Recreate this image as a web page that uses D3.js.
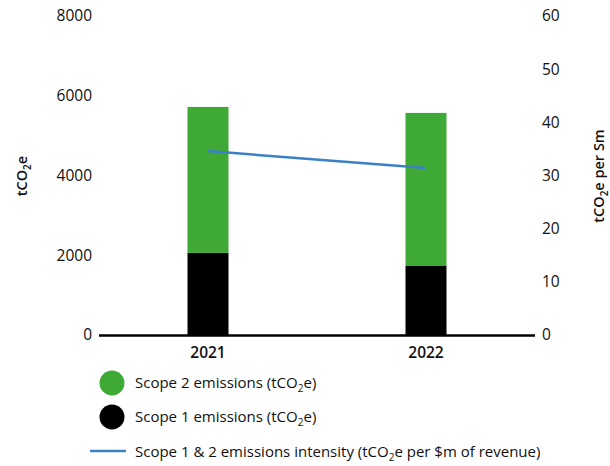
<!DOCTYPE html>
<meta charset="utf-8">
<script src="https://cdn.jsdelivr.net/npm/d3@7"></script>
<html>
<head>
<style>
body { margin: 0; background: #fff; }
text { font-family: "Open Sans", "Lato", sans-serif; fill: #111; }
</style>
</head>
<body>
<div id="chart"></div>
<script>

// data
var years = ["2021", "2022"];
var scope1 = [2060, 1730];
var scope2 = [3660, 3840];
var intensity = [34.6, 31.4];
var leftTicks = [0, 2000, 4000, 6000, 8000];
var rightTicks = [0, 10, 20, 30, 40, 50, 60];

var W = 610, H = 466;
var green = "#3ea935", blue = "#3b80c4";
var font = "'Open Sans', sans-serif";

var svg = d3.select("#chart").append("svg")
    .attr("width", W)
    .attr("height", H);

var x = d3.scaleBand()
  .domain(years)
  .range([99, 535])
  .padding(0);

var yL = d3.scaleLinear().domain([0, 8000]).range([335, 16]);
var yR = d3.scaleLinear().domain([0, 60]).range([335, 16]);

var barW = 41;

// left axis labels
svg.append("g")
  .attr("transform", "translate(99,0)")
  .call(d3.axisLeft(yL).tickValues(leftTicks).tickFormat(d3.format("d")).tickSize(0).tickPadding(7))
  .call(function(g) { g.select(".domain").remove(); })
  .selectAll("text").style("font-size", "15.5px").style("font-family", font).style("font-weight", "500").attr("fill", "#111");

// right axis labels
svg.append("g")
  .attr("transform", "translate(535,0)")
  .call(d3.axisRight(yR).tickValues(rightTicks).tickSize(0).tickPadding(7))
  .call(function(g) { g.select(".domain").remove(); })
  .selectAll("text").style("font-size", "15.5px").style("font-family", font).style("font-weight", "500").attr("fill", "#111");

// stacked bars
var bars = svg.append("g");
years.forEach(function(yr, i) {
  var cx = x(yr) + x.bandwidth() / 2;
  bars.append("rect")
    .attr("x", cx - barW / 2)
    .attr("y", yL(scope1[i]))
    .attr("width", barW)
    .attr("height", yL(0) - yL(scope1[i]))
    .attr("fill", "#000");
  bars.append("rect")
    .attr("x", cx - barW / 2)
    .attr("y", yL(scope1[i] + scope2[i]))
    .attr("width", barW)
    .attr("height", yL(scope1[i]) - yL(scope1[i] + scope2[i]))
    .attr("fill", green);
});

// x axis line + labels
svg.append("line")
  .attr("x1", 99).attr("x2", 535)
  .attr("y1", yL(0) + 0.5).attr("y2", yL(0) + 0.5)
  .attr("stroke", "#000").attr("stroke-width", 2.5);

svg.append("g")
  .attr("transform", "translate(0," + yL(0) + ")")
  .call(d3.axisBottom(x).tickSize(0).tickPadding(12))
  .call(function(g) { g.select(".domain").remove(); })
  .selectAll("text").style("font-size", "15.5px").style("font-family", font).style("font-weight", "600").attr("fill", "#111");

// intensity line
svg.append("path")
  .datum(intensity)
  .attr("fill", "none")
  .attr("stroke", blue)
  .attr("stroke-width", 2.5)
  .attr("d", d3.line()
    .x(function(d, i) { return x(years[i]) + x.bandwidth() / 2; })
    .y(function(d) { return yR(d); }));

// helper for text with subscript 2
function co2Text(sel, before, after) {
  sel.append("tspan").text(before + "tCO");
  sel.append("tspan").text("2").attr("dy", 4).style("font-size", "10px");
  sel.append("tspan").text("e" + after).attr("dy", -4);
}

// axis titles
var lt = svg.append("text")
  .attr("transform", "translate(27,176) rotate(-90)")
  .attr("text-anchor", "middle")
  .style("font-size", "14.5px").style("font-weight", "600");
co2Text(lt, "", "");

var rt = svg.append("text")
  .attr("transform", "translate(604,176) rotate(-90)")
  .attr("text-anchor", "middle")
  .style("font-size", "14.5px").style("font-weight", "600");
co2Text(rt, "", " per Sm");

// legend
var leg = svg.append("g").style("font-size", "15px").style("font-weight", "500");
leg.append("circle").attr("cx", 112).attr("cy", 383).attr("r", 12.5).attr("fill", green);
co2Text(leg.append("text").attr("x", 135).attr("y", 388), "Scope 2 emissions (", ")");
leg.append("circle").attr("cx", 112).attr("cy", 417).attr("r", 12.5).attr("fill", "#000");
co2Text(leg.append("text").attr("x", 135).attr("y", 422), "Scope 1 emissions (", ")");
leg.append("line").attr("x1", 90).attr("x2", 126).attr("y1", 451).attr("y2", 451)
  .attr("stroke", blue).attr("stroke-width", 2.5);
co2Text(leg.append("text").attr("x", 135).attr("y", 457), "Scope 1 & 2 emissions intensity (", " per $m of revenue)");

</script>
</body>
</html>
